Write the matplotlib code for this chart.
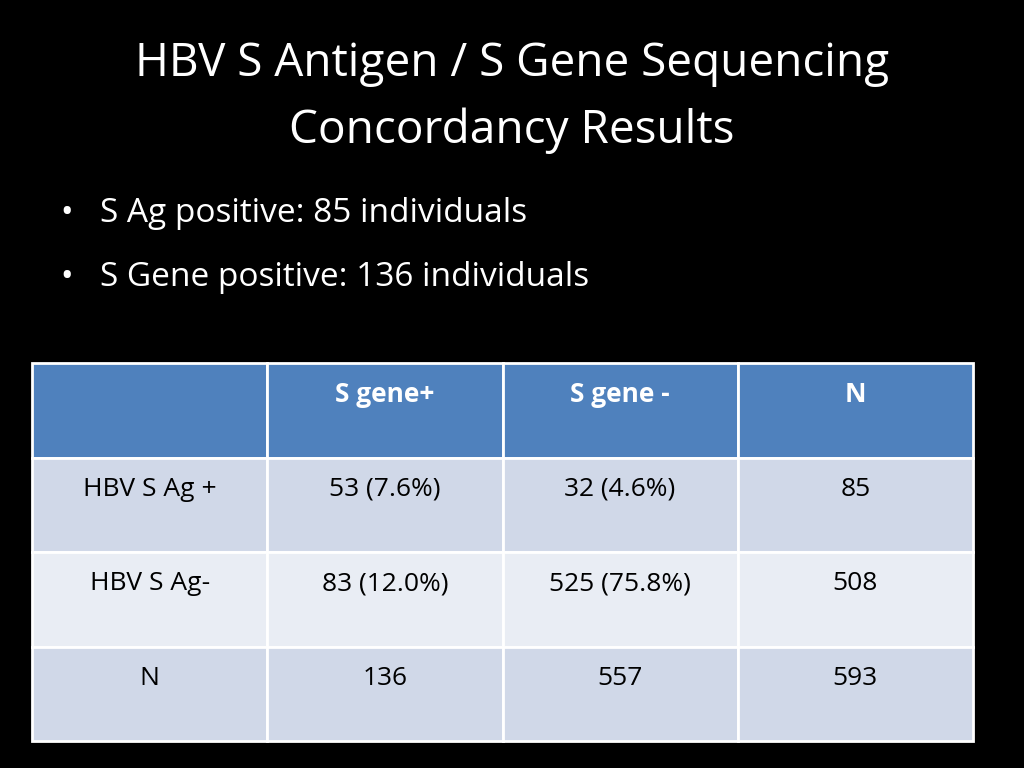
import matplotlib
matplotlib.use("Agg")
import matplotlib.pyplot as plt
from matplotlib.patches import Rectangle

title_lines = ["HBV S Antigen / S Gene Sequencing", "Concordancy Results"]
bullets = ["S Ag positive: 85 individuals", "S Gene positive: 136 individuals"]
col_headers = ["", "S gene+", "S gene -", "N"]
row_labels = ["HBV S Ag +", "HBV S Ag-", "N"]
col_sgene_pos = ["53 (7.6%)", "83 (12.0%)", "136"]
col_sgene_neg = ["32 (4.6%)", "525 (75.8%)", "557"]
col_n = ["85", "508", "593"]

FONT = "Open Sans"
fig = plt.figure(figsize=(10.24, 7.68), dpi=100, facecolor="black")
ax = fig.add_axes([0, 0, 1, 1])
ax.set_xlim(0, 1024); ax.set_ylim(768, 0); ax.axis("off")
ax.set_facecolor("black")

ax.text(512, 64, title_lines[0], color="white", fontsize=33, ha="center", va="center", family=FONT)
ax.text(512, 131, title_lines[1], color="white", fontsize=33, ha="center", va="center", family=FONT)
for i, b in enumerate(bullets):
    y = 214 + i * 64
    ax.text(60, y, "•", color="white", fontsize=24, ha="left", va="center", family=FONT)
    ax.text(100, y, b, color="white", fontsize=24, ha="left", va="center", family=FONT)

x0, y0, cw, rh = 32, 363, 235.25, 94.5
fills = ["#4F81BD", "#D0D8E8", "#E9EDF4", "#D0D8E8"]
rows = [col_headers] + [[row_labels[r], col_sgene_pos[r], col_sgene_neg[r], col_n[r]] for r in range(3)]
for r, row in enumerate(rows):
    for c, txt in enumerate(row):
        x = x0 + c * cw; y = y0 + r * rh
        ax.add_patch(Rectangle((x, y), cw, rh, facecolor=fills[r], edgecolor="white", lw=2))
        if r == 0:
            ax.text(x + cw / 2, y + 32, txt, color="white", fontsize=19, fontweight="bold",
                    ha="center", va="center", family=FONT)
        else:
            ax.text(x + cw / 2, y + 32, txt, color="black", fontsize=19,
                    ha="center", va="center", family=FONT)

fig.savefig("out.png", dpi=100, facecolor="black")
